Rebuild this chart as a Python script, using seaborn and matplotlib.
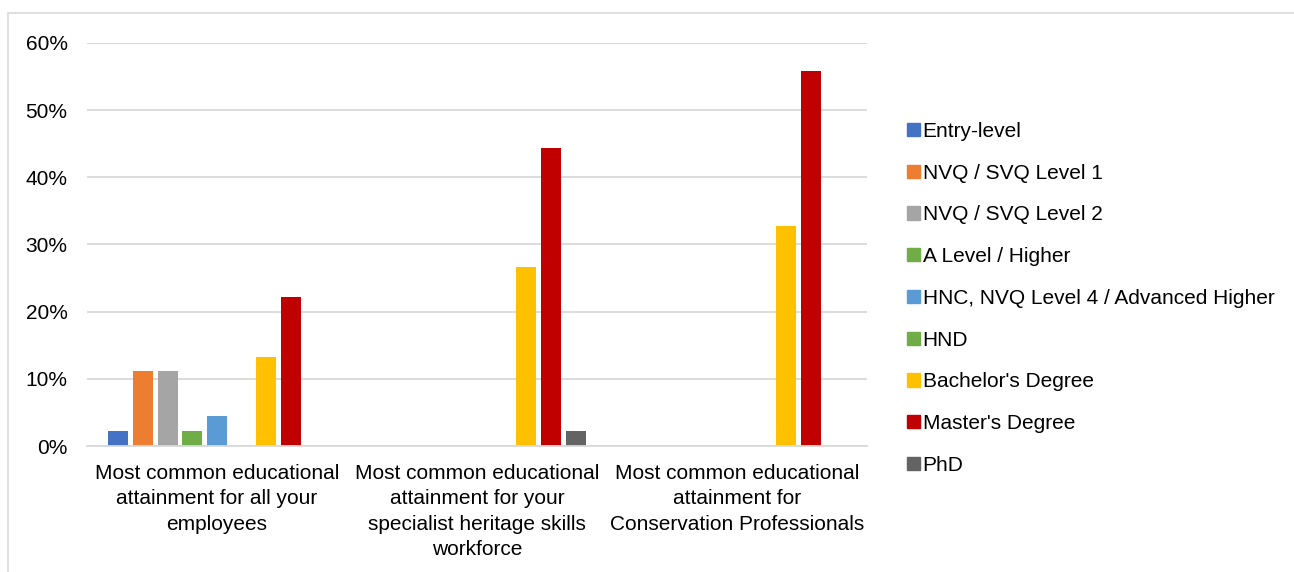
import matplotlib
matplotlib.use("Agg")
import matplotlib.pyplot as plt
import matplotlib.patches as mpatches
from matplotlib.ticker import PercentFormatter
import pandas as pd
import seaborn as sns

categories = [
    "Most common educational\nattainment for all your\nemployees",
    "Most common educational\nattainment for your\nspecialist heritage skills\nworkforce",
    "Most common educational\nattainment for\nConservation Professionals",
]
levels = [
    "Entry-level",
    "NVQ / SVQ Level 1",
    "NVQ / SVQ Level 2",
    "A Level / Higher",
    "HNC, NVQ Level 4 / Advanced Higher",
    "HND",
    "Bachelor's Degree",
    "Master's Degree",
    "PhD",
]
all_employees = [2.2, 11.1, 11.1, 2.2, 4.4, 0.0, 13.3, 22.2, 0.0]
specialist_workforce = [0.0, 0.0, 0.0, 0.0, 0.0, 0.0, 26.7, 44.4, 2.2]
conservation_professionals = [0.0, 0.0, 0.0, 0.0, 0.0, 0.0, 32.7, 55.8, 0.0]
colors = ["#4472C4", "#ED7D31", "#A5A5A5", "#70AD47", "#5B9BD5",
          "#70AD47", "#FFC000", "#C00000", "#636363"]

rows = []
for cat, vals in zip(categories, [all_employees, specialist_workforce, conservation_professionals]):
    for lvl, v in zip(levels, vals):
        rows.append({"category": cat, "level": lvl, "share": v / 100})
df = pd.DataFrame(rows)

sns.set_theme(style="white")
plt.rcParams["font.family"] = ["Liberation Sans", "DejaVu Sans"]
plt.rcParams["text.color"] = "black"

FS = 15

fig = plt.figure(figsize=(12.94, 5.72), dpi=100)
ax = fig.add_axes([87 / 1294, 1 - 446 / 572, 780 / 1294, 403 / 572])

sns.barplot(data=df, x="category", y="share", hue="level", hue_order=levels,
            palette=colors, saturation=1, width=0.855, gap=0.19, linewidth=0,
            legend=False, ax=ax)

ax.set_ylim(0, 0.6)
ax.set_xlim(-0.5, 2.5)
ax.set_yticks([0, 0.1, 0.2, 0.3, 0.4, 0.5, 0.6])
ax.yaxis.set_major_formatter(PercentFormatter(1.0, decimals=0))
ax.grid(axis="y", color="#D9D9D9", linewidth=1.3)
ax.set_axisbelow(True)
for side in ["top", "right", "left"]:
    ax.spines[side].set_visible(False)
ax.spines["bottom"].set_color("#D9D9D9")
ax.spines["bottom"].set_linewidth(1.3)
ax.tick_params(axis="both", length=0, labelsize=FS, colors="black")
ax.tick_params(axis="y", pad=14)
ax.tick_params(axis="x", pad=13)
ax.set_xlabel("")
ax.set_ylabel("")
for lbl in ax.get_xticklabels():
    lbl.set_linespacing(1.42)

handles = [mpatches.Patch(color=c, label=l) for c, l in zip(colors, levels)]
leg = fig.legend(handles=handles, loc="upper left", bbox_to_anchor=(907 / 1294, 1 - 122 / 572),
                 frameon=False, fontsize=FS, handlelength=0.6, handleheight=0.6,
                 handletextpad=0.15, labelspacing=1.09, borderaxespad=0, borderpad=0)
for t in leg.get_texts():
    t.set_color("black")

# outer chart border
fig.add_artist(mpatches.Rectangle((8 / 1294, -0.01), 1.1, 1 - 13 / 572 + 0.01,
                                  transform=fig.transFigure, fill=False,
                                  edgecolor="#D9D9D9", linewidth=1.2))

fig.savefig("out.png", dpi=100)
